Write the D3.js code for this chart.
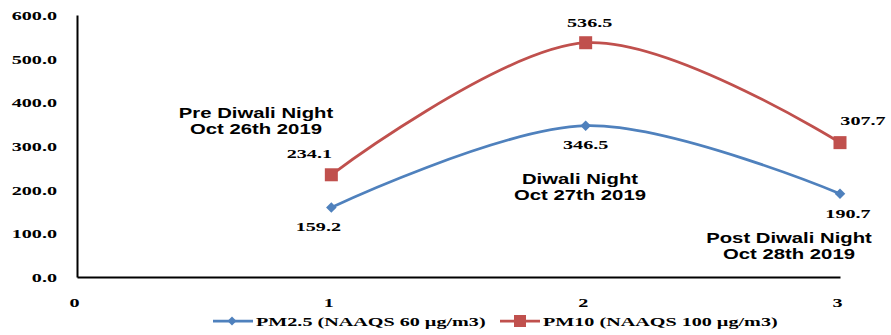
<!DOCTYPE html>
<html>
<head>
<meta charset="utf-8">
<script src="https://cdn.jsdelivr.net/npm/d3@7"></script>
<style>
  body { margin: 0; background: #fff; }
  svg { display: block; }
</style>
</head>
<body>
<svg id="chart" width="891" height="335"></svg>
<script>
// Particulate matter readings around Diwali 2019
const nights = [1, 2, 3];
const pm25 = [159.2, 346.5, 190.7];
const pm10 = [234.1, 536.5, 307.7];
const xTicks = [0, 1, 2, 3];
const yTicks = [0, 100, 200, 300, 400, 500, 600];
const seriesNames = ["PM2.5 (NAAQS 60 µg/m3)", "PM10 (NAAQS 100 µg/m3)"];
const nightLabels = [
  ["Pre Diwali Night", "Oct 26th 2019"],
  ["Diwali Night", "Oct 27th 2019"],
  ["Post Diwali Night", "Oct 28th 2019"]
];

const blue = "#4F81BD", red = "#C0504D";
const serif = "'Liberation Serif', 'Times New Roman', serif";
const sans = "'Liberation Sans', Arial, sans-serif";
// all text is drawn horizontally widened
const SX_SERIF = 1.55, SX_SANS = 1.45;

const svg = d3.select("#chart");
const x = d3.scaleLinear().domain([0, 3]).range([77, 840]);
const y = d3.scaleLinear().domain([0, 600]).range([277, 15]);

// place a text element at (px, py) with a horizontal stretch
function placeText(sel, px, py, sx) {
  return sel.attr("x", 0).attr("y", 0)
    .attr("transform", (d, i) => {
      const a = typeof px === "function" ? px(d, i) : px;
      const b = typeof py === "function" ? py(d, i) : py;
      return `translate(${a},${b}) scale(${sx},1)`;
    });
}

// Axes
const gy = svg.append("g").attr("transform", `translate(${x(0)},0)`)
  .call(d3.axisLeft(y).tickValues(yTicks).tickSize(0).tickFormat(d3.format(".1f")));
const gx = svg.append("g").attr("transform", `translate(0,${y(0)})`)
  .call(d3.axisBottom(x).tickValues(xTicks).tickSize(0).tickFormat(d3.format("d")));
[gx, gy].forEach(g => {
  g.select(".domain").attr("stroke", "#000").attr("stroke-width", 2);
  g.selectAll("text").attr("font-family", serif).attr("font-weight", "bold")
    .attr("font-size", 13).attr("fill", "#000").attr("dy", null);
});
placeText(gy.selectAll(".tick text"), -20, 4.5, SX_SERIF).attr("text-anchor", "end");
placeText(gx.selectAll(".tick text"), -3, 30, SX_SERIF).attr("text-anchor", "middle");

// Smoothed series lines
const line = d3.line().x((d, i) => x(nights[i])).y(d => y(d)).curve(d3.curveCardinal.tension(0));
svg.append("path").datum(pm25).attr("d", line).attr("fill", "none")
  .attr("stroke", blue).attr("stroke-width", 2.75);
svg.append("path").datum(pm10).attr("d", line).attr("fill", "none")
  .attr("stroke", red).attr("stroke-width", 2.75);

// Markers
svg.append("g").selectAll("path").data(pm25).join("path")
  .attr("d", d3.symbol().type(d3.symbolSquare).size(56))
  .attr("transform", (d, i) => `translate(${x(nights[i])},${y(d)}) rotate(45)`)
  .attr("fill", blue);
svg.append("g").selectAll("rect").data(pm10).join("rect")
  .attr("x", (d, i) => x(nights[i]) - 6.5).attr("y", d => y(d) - 6.5)
  .attr("width", 13).attr("height", 13).attr("fill", red);

// Value labels
const valueText = (vals, offsets) => placeText(
  svg.append("g").selectAll("text").data(vals).join("text")
    .attr("text-anchor", "middle")
    .attr("font-family", serif).attr("font-weight", "bold").attr("font-size", 13)
    .attr("fill", "#000")
    .text(d => d3.format(".1f")(d)),
  (d, i) => x(nights[i]) + offsets[i][0],
  (d, i) => y(d) + offsets[i][1],
  SX_SERIF);
valueText(pm25, [[-13, 24], [0, 23], [8, 24]]);
valueText(pm10, [[-22, -17], [4, -16], [23, -18]]);

// Night annotations
const notes = [[256, 118], [580, 184], [789, 243]];
nightLabels.forEach((lines, i) => {
  const t = svg.append("text").attr("text-anchor", "middle").attr("font-family", sans)
    .attr("font-weight", "bold").attr("font-size", 14).attr("fill", "#000");
  placeText(t, notes[i][0], notes[i][1], SX_SANS);
  lines.forEach((s, j) => t.append("tspan").attr("x", 0).attr("y", j * 16).text(s));
});

// Legend
const legend = [
  { name: seriesNames[0], color: blue, x: 213, marker: "diamond" },
  { name: seriesNames[1], color: red, x: 500, marker: "square" }
];
const ly = 321;
legend.forEach(l => {
  const g = svg.append("g");
  g.append("line").attr("x1", l.x).attr("x2", l.x + 40).attr("y1", ly).attr("y2", ly)
    .attr("stroke", l.color).attr("stroke-width", 2.75);
  if (l.marker === "diamond") {
    g.append("path").attr("d", d3.symbol().type(d3.symbolSquare).size(40))
      .attr("transform", `translate(${l.x + 19},${ly}) rotate(45)`).attr("fill", l.color);
  } else {
    g.append("rect").attr("x", l.x + 14).attr("y", ly - 6).attr("width", 12).attr("height", 12)
      .attr("fill", l.color);
  }
  const t = g.append("text").attr("font-family", serif).attr("font-weight", "bold")
    .attr("font-size", 13).attr("fill", "#000").text(l.name);
  placeText(t, l.x + 43, ly + 4.5, SX_SERIF);
});
</script>
</body>
</html>
